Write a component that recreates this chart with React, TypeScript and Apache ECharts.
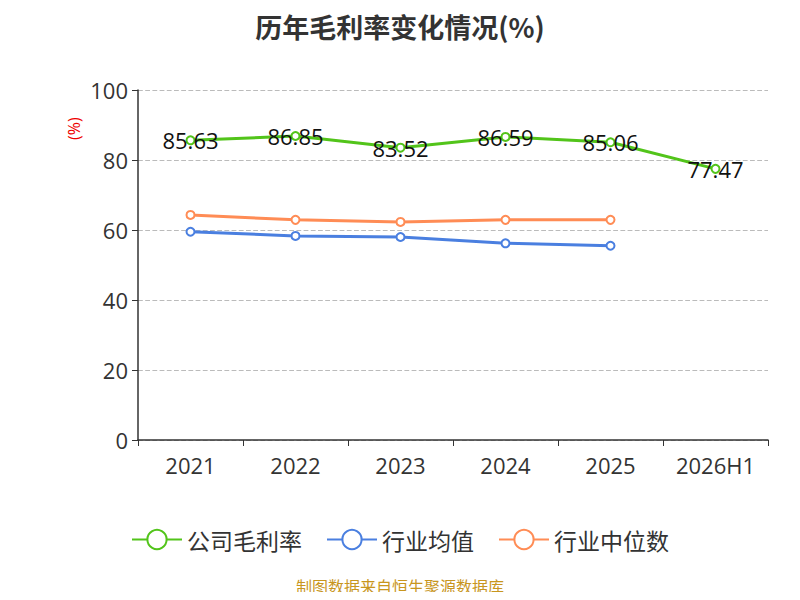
import React, { useEffect, useRef } from 'react';
import * as echarts from 'echarts';

const years = ['2021', '2022', '2023', '2024', '2025', '2026H1'];
const companyMargin = [85.63, 86.85, 83.52, 86.59, 85.06, 77.47];
const industryAvg = [59.5, 58.3, 58.0, 56.2, 55.5];
const industryMedian = [64.3, 62.9, 62.3, 62.9, 62.9];

const App: React.FC = () => {
  const chartRef = useRef<HTMLDivElement>(null);

  useEffect(() => {
    if (!chartRef.current) return;
    const chart = echarts.init(chartRef.current, null, { renderer: 'svg' });
    const font = '"Open Sans", "Noto Sans CJK SC", sans-serif';
    const cjk = '"Noto Sans CJK SC", sans-serif';
    const option: any = {
      animation: false,
      textStyle: { fontFamily: font },
      title: {
        text: '历年毛利率变化情况(%)',
        left: 'center',
        top: 0,
        textStyle: { fontSize: 27, fontWeight: 'bold', color: '#333', fontFamily: cjk },
      },
      grid: { left: 130, right: 24, top: 82, bottom: 152 },
      legend: {
        bottom: 36,
        itemWidth: 50,
        itemHeight: 24,
        itemGap: 24,
        textStyle: { fontSize: 23, color: '#333', fontFamily: cjk },
        data: ['公司毛利率', '行业均值', '行业中位数'],
      },
      graphic: [
        {
          type: 'text',
          left: 'center',
          bottom: -2,
          style: { text: '制图数据来自恒生聚源数据库', fill: '#c8961e', fontSize: 16, fontFamily: cjk },
        },
        {
          type: 'text',
          x: 58,
          y: 132,
          rotation: Math.PI / 2,
          style: { text: '(%)', fill: '#e00', fontSize: 16, fontFamily: font },
        },
      ],
      xAxis: {
        type: 'category',
        data: years,
        boundaryGap: true,
        axisLine: { lineStyle: { color: '#333', width: 1.5 } },
        axisTick: { show: true, length: 6, lineStyle: { color: '#333' } },
        axisLabel: { fontSize: 22, color: '#333', margin: 14 },
      },
      yAxis: {
        type: 'value',
        min: 0,
        max: 100,
        interval: 20,
        axisLine: { show: true, lineStyle: { color: '#333', width: 1.5 } },
        axisTick: { show: true, length: 6, lineStyle: { color: '#333' } },
        axisLabel: { fontSize: 22, color: '#333', margin: 10 },
        splitLine: { lineStyle: { color: '#bbb', type: 'dashed', width: 1.2 } },
      },
      series: [
        {
          name: '公司毛利率',
          type: 'line',
          data: companyMargin,
          symbol: 'emptyCircle',
          symbolSize: 8,
          color: '#52c41a',
          lineStyle: { width: 3 },
          label: { show: true, position: 'inside', offset: [0, 0], fontSize: 22, color: '#111', formatter: (p: any) => p.value.toFixed(2) },
        },
        {
          name: '行业均值',
          type: 'line',
          data: industryAvg,
          symbol: 'emptyCircle',
          symbolSize: 8,
          color: '#4a7fe0',
          lineStyle: { width: 3 },
        },
        {
          name: '行业中位数',
          type: 'line',
          data: industryMedian,
          symbol: 'emptyCircle',
          symbolSize: 8,
          color: '#ff8c55',
          lineStyle: { width: 3 },
        },
      ],
    };
    chart.setOption(option);
    return () => chart.dispose();
  }, []);

  return <div ref={chartRef} style={{ width: 784, height: 584 }} />;
};

export default App;
